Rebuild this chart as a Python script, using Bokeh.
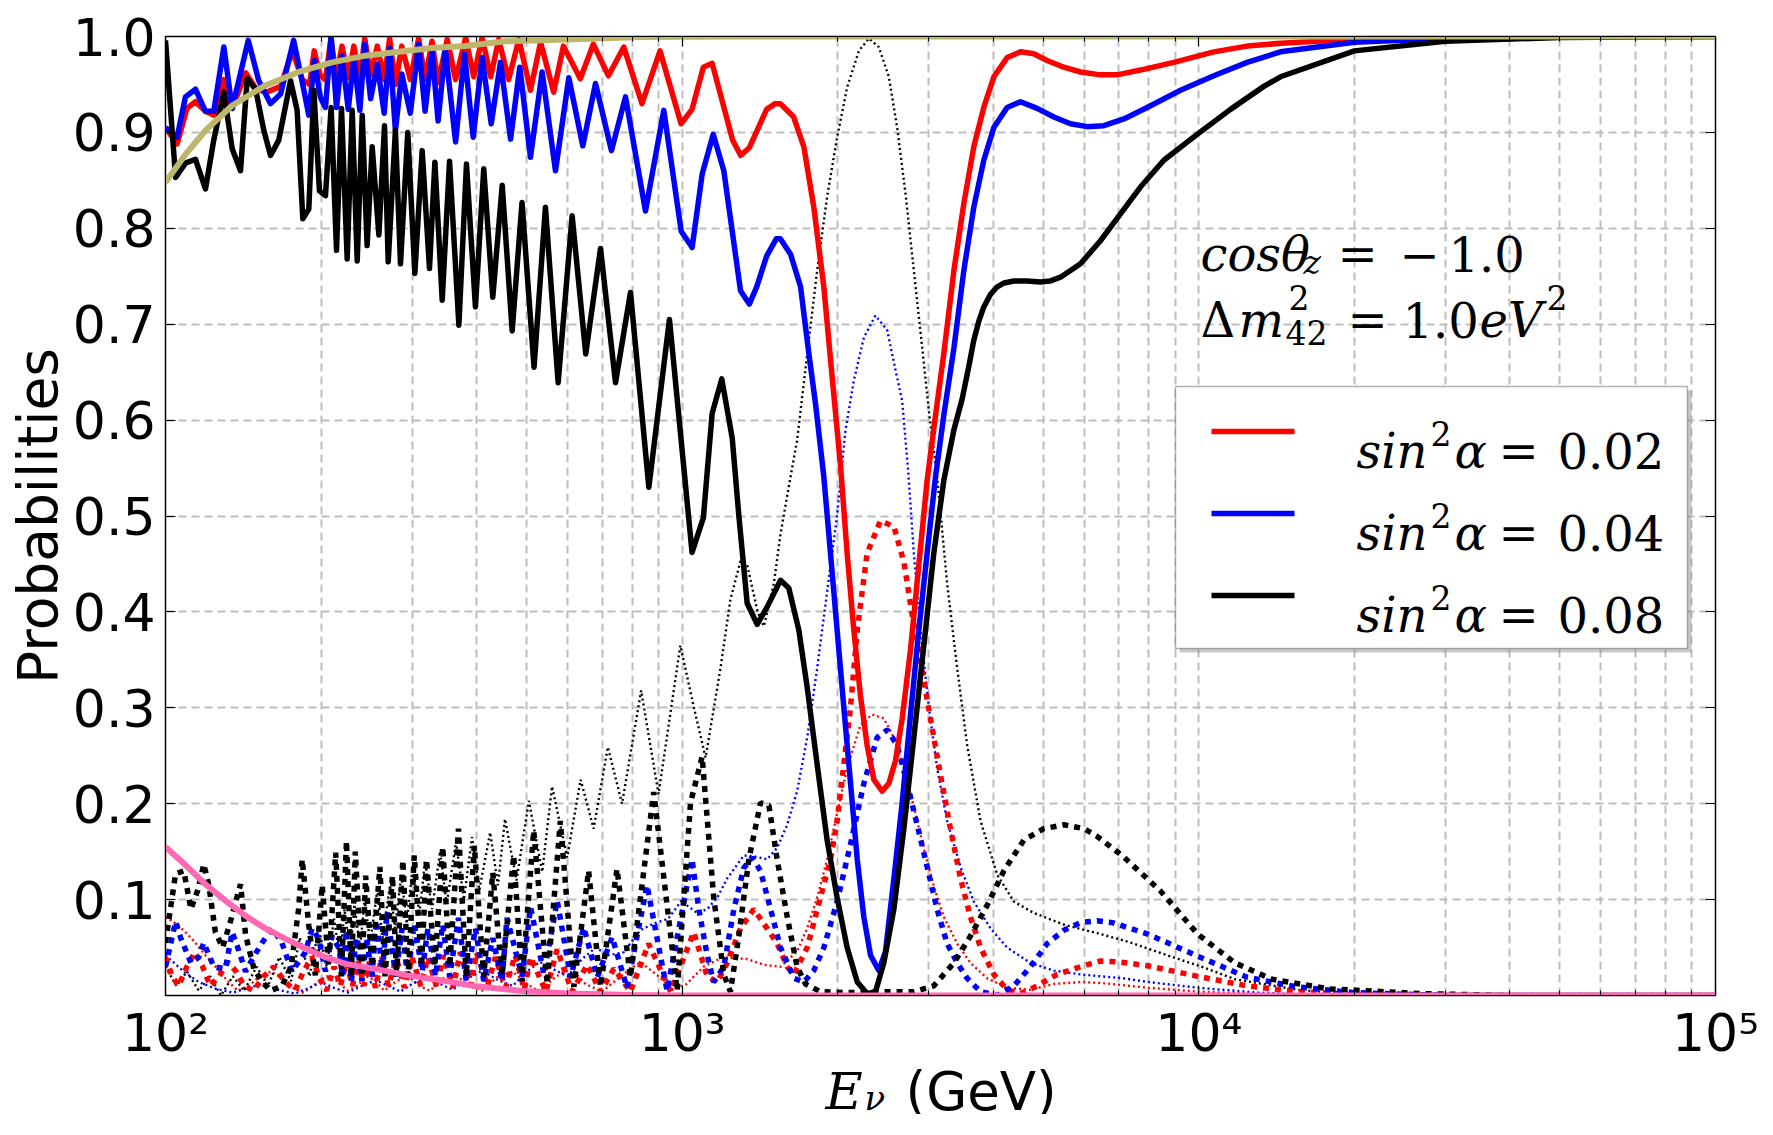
from bokeh.plotting import figure
from bokeh.layouts import column
from bokeh.models import (FixedTicker, LinearAxis, LogAxis, Label, BoxAnnotation,
                          NumeralTickFormatter, CustomJSTickFormatter)
from bokeh.embed import file_html
from bokeh.resources import INLINE

# ---------------- data ----------------
RED_SOLID_E = [100, 105.3, 110, 114.3, 119.5, 124, 129.7, 134.6, 143, 150, 157, 167, 176, 184, 190, 194, 199, 204,
               209, 214, 219.6, 225.8, 231.5, 237.8, 243, 249.5, 257, 265, 271.5, 278.6, 286.6, 297.7, 309, 318,
               328, 337, 351, 364.3, 381, 395, 410, 426, 441.6, 461.4, 483, 508.6, 532, 564, 589, 635, 673, 720,
               771, 836, 906, 995, 1045, 1099, 1143, 1252, 1298, 1349, 1457, 1514, 1549, 1644, 1720, 1798, 1880,
               1951, 2025, 2086, 2149, 2213, 2280, 2350, 2438, 2512, 2588, 2666, 2767, 2871, 2979, 3093, 3209,
               3357, 3509, 3668, 3835, 4011, 4256, 4516, 4793, 5086, 5480, 5902, 6452, 6950, 7709, 8947, 10690,
               12400, 14390, 20000, 30000, 50000, 100000]
RED_SOLID_P = [0.905, 0.888, 0.925, 0.932, 0.922, 0.918, 0.955, 0.925, 0.962, 0.945, 0.942, 0.948, 0.985, 0.955,
               0.950, 0.985, 0.960, 0.955, 0.998, 0.958, 0.990, 0.957, 0.990, 0.957, 0.998, 0.960, 0.990, 0.955,
               0.998, 0.950, 0.990, 0.955, 0.998, 0.955, 0.995, 0.952, 0.997, 0.955, 0.999, 0.958, 0.999, 0.958,
               0.997, 0.955, 0.997, 0.944, 0.994, 0.942, 0.990, 0.956, 0.992, 0.959, 0.989, 0.930, 0.985, 0.909,
               0.924, 0.968, 0.972, 0.892, 0.876, 0.884, 0.924, 0.930, 0.930, 0.916, 0.885, 0.822, 0.739, 0.645,
               0.553, 0.461, 0.381, 0.313, 0.261, 0.225, 0.213, 0.221, 0.245, 0.289, 0.361, 0.449, 0.537, 0.605,
               0.669, 0.756, 0.826, 0.885, 0.926, 0.958, 0.978, 0.984, 0.982, 0.975, 0.968, 0.963, 0.960, 0.960,
               0.965, 0.973, 0.984, 0.990, 0.993, 0.997, 0.999, 1.0, 1.0]

BLUE_SOLID_E = [100, 105.3, 109.3, 114.3, 119.5, 124, 129.7, 134.6, 144.6, 151.5, 159.7, 167, 177, 183.7, 189.4,
                194.2, 199.3, 204, 209.2, 214.3, 219.6, 225.8, 231.5, 237.8, 243, 249.5, 257, 265, 271.5, 278.6,
                286.6, 297.7, 309, 318, 328, 337, 348, 364.3, 379, 394, 410, 427, 445, 465.5, 485, 508.6, 535.8,
                568.6, 603.4, 642.2, 679.6, 729.7, 776.9, 849.2, 921.5, 995.7, 1045.5, 1093.6, 1148.5, 1204, 1250,
                1297, 1349, 1394, 1457, 1521, 1549, 1621, 1695, 1759, 1812, 1880, 1937, 1995, 2055, 2118, 2182,
                2247, 2315, 2402, 2475, 2569, 2666, 2767, 2871, 2979, 3093, 3209, 3357, 3509, 3668, 3835, 4011,
                4256, 4516, 4865, 5240, 5644, 6079, 6549, 7159, 7943, 9215, 10690, 12400, 14390, 20000, 30000,
                50000, 100000]
BLUE_SOLID_P = [0.905, 0.895, 0.937, 0.945, 0.922, 0.922, 0.989, 0.925, 0.996, 0.954, 0.930, 0.940, 0.996, 0.954,
                0.918, 0.975, 0.937, 0.926, 1.0, 0.926, 0.980, 0.924, 0.978, 0.923, 0.992, 0.935, 0.971, 0.920,
                0.988, 0.902, 0.961, 0.920, 0.992, 0.922, 0.985, 0.912, 0.987, 0.890, 0.982, 0.895, 0.978, 0.909,
                0.973, 0.893, 0.968, 0.874, 0.963, 0.860, 0.957, 0.886, 0.951, 0.881, 0.937, 0.818, 0.923, 0.797,
                0.780, 0.857, 0.898, 0.860, 0.797, 0.735, 0.721, 0.739, 0.771, 0.789, 0.789, 0.773, 0.739, 0.669,
                0.617, 0.541, 0.461, 0.381, 0.301, 0.221, 0.142, 0.082, 0.042, 0.026, 0.046, 0.122, 0.201, 0.293,
                0.381, 0.461, 0.541, 0.605, 0.675, 0.756, 0.822, 0.871, 0.905, 0.926, 0.932, 0.925, 0.916, 0.909,
                0.906, 0.907, 0.914, 0.926, 0.944, 0.959, 0.973, 0.984, 0.994, 0.998, 1.0, 1.0]

BLACK_SOLID_E = [100, 104.6, 109.3, 114.3, 119.5, 124.0, 129.7, 134.6, 139.7, 143.9, 149.4, 155.0, 159.7, 165.7,
                 174.6, 179.8, 184.4, 189.4, 193.7, 198.6, 204.0, 209.2, 214.3, 219.1, 224.7, 229.8, 235.0, 240.3,
                 245.6, 251.2, 258.8, 265.4, 269.8, 278.6, 285.0, 294.4, 303.8, 313.9, 324.3, 332.2, 343.2, 354.6,
                 369.7, 382.4, 398, 413, 430, 448.4, 468.8, 489.8, 516.8, 543.7, 575.4, 612.4, 650.7, 695, 743,
                 794.3, 862, 945, 1045, 1099, 1143, 1193, 1250, 1287, 1336, 1397, 1460, 1550, 1608, 1682, 1746,
                 1825, 1908, 1995, 2086, 2182, 2280, 2367, 2456, 2569, 2686, 2808, 2936, 3069, 3209, 3357, 3483,
                 3600, 3667, 3750, 3835, 3950, 4071, 4200, 4384, 4650, 4937, 5150, 5398, 5901, 6450, 7052, 7709,
                 8553, 9924, 11514, 13360, 14390, 20000, 30000, 50000, 100000]
BLACK_SOLID_P = [0.996, 0.853, 0.868, 0.872, 0.841, 0.892, 0.942, 0.883, 0.860, 0.956, 0.945, 0.902, 0.876, 0.892,
                 0.954, 0.923, 0.810, 0.820, 0.944, 0.839, 0.834, 0.926, 0.777, 0.925, 0.768, 0.923, 0.766, 0.918,
                 0.782, 0.885, 0.793, 0.907, 0.765, 0.902, 0.763, 0.900, 0.753, 0.881, 0.758, 0.869, 0.725, 0.870,
                 0.699, 0.867, 0.718, 0.862, 0.728, 0.845, 0.693, 0.827, 0.655, 0.822, 0.639, 0.813, 0.669, 0.779,
                 0.639, 0.733, 0.530, 0.705, 0.462, 0.498, 0.607, 0.643, 0.581, 0.501, 0.409, 0.387, 0.405, 0.433,
                 0.425, 0.381, 0.321, 0.241, 0.162, 0.102, 0.050, 0.014, 0.002, 0.004, 0.034, 0.090, 0.174, 0.269,
                 0.365, 0.461, 0.537, 0.590, 0.622, 0.660, 0.683, 0.703, 0.718, 0.731, 0.739, 0.743, 0.745, 0.745,
                 0.744, 0.745, 0.749, 0.763, 0.787, 0.815, 0.843, 0.871, 0.898, 0.924, 0.948, 0.958, 0.985, 0.995,
                 0.999, 1.0]

BLACK_DASHED_E = [100, 104.6, 108.5, 112, 115.5, 118.6, 121.3, 124.9, 129, 134, 139.7, 142.9, 148.3, 153.8, 160,
                  168, 175, 181, 183.9, 189.4, 195, 201, 207, 213.5, 219, 224, 229, 233, 240, 244, 251, 260, 266,
                  275, 280, 288, 295, 303, 313, 320, 332, 344, 355, 369, 382, 396, 413, 430, 448, 472, 490, 516,
                  548, 581, 617, 659, 695, 748, 794, 881, 978, 1038, 1093, 1151, 1204, 1240, 1287, 1346, 1418,
                  1472, 1527, 1597, 1669, 1733, 1850, 2100, 2420, 2808, 3069, 3357, 3614, 3893, 4194, 4584, 5011,
                  5479, 5990, 6356, 7137, 8427, 9950, 11740, 13860, 17780, 26900, 40000, 100000]
BLACK_DASHED_P = [0.055, 0.127, 0.130, 0.090, 0.110, 0.137, 0.115, 0.066, 0.050, 0.080, 0.116, 0.063, 0.028, 0.014,
                  0.005, 0.010, 0.030, 0.090, 0.142, 0.073, 0.021, 0.115, 0.031, 0.149, 0.020, 0.161, 0.020, 0.150,
                  0.020, 0.125, 0.030, 0.134, 0.020, 0.125, 0.020, 0.141, 0.020, 0.146, 0.030, 0.142, 0.030, 0.155,
                  0.030, 0.174, 0.020, 0.156, 0.020, 0.128, 0.020, 0.146, 0.015, 0.172, 0.012, 0.182, 0.009, 0.130,
                  0.009, 0.132, 0.019, 0.212, 0.005, 0.201, 0.249, 0.102, 0.022, 0.004, 0.062, 0.142, 0.201, 0.198,
                  0.142, 0.082, 0.030, 0.012, 0.004, 0.003, 0.004, 0.004, 0.010, 0.034, 0.062, 0.094, 0.130, 0.162,
                  0.174, 0.178, 0.174, 0.166, 0.145, 0.109, 0.064, 0.034, 0.017, 0.007, 0.002, 0.0, 0.0]

BLUE_DASHED_E = [100, 104.6, 107, 109.3, 112, 116, 118.6, 124, 130.6, 134.6, 137.6, 142.9, 148, 153.8, 160.9, 168,
                 175.6, 181, 186.5, 192.2, 198, 204, 210, 216.7, 220, 224, 229, 234, 240, 245, 251, 256, 263,
                 268.5, 279, 287, 294, 303, 314, 322, 333, 344, 355, 369, 382, 398, 413, 430, 448, 458, 490, 509,
                 540, 573, 608, 645, 685, 732, 782, 855, 935, 1045, 1077, 1118, 1151, 1204, 1259, 1316, 1366,
                 1418, 1483, 1550, 1645, 1720, 1798, 1880, 1995, 2118, 2247, 2384, 2493, 2607, 2726, 2850, 2980,
                 3115, 3258, 3407, 3561, 3780, 4071, 4385, 4722, 5086, 5479, 5902, 6356, 6800, 7970, 9950, 12400,
                 15500, 20000, 30000, 100000]
BLUE_DASHED_P = [0.030, 0.077, 0.060, 0.048, 0.034, 0.040, 0.055, 0.030, 0.028, 0.066, 0.052, 0.025, 0.040, 0.055,
                 0.070, 0.055, 0.025, 0.035, 0.045, 0.070, 0.059, 0.025, 0.062, 0.049, 0.020, 0.068, 0.015, 0.060,
                 0.015, 0.060, 0.020, 0.078, 0.025, 0.087, 0.020, 0.070, 0.020, 0.075, 0.025, 0.070, 0.020, 0.074,
                 0.020, 0.081, 0.015, 0.070, 0.015, 0.060, 0.015, 0.081, 0.020, 0.092, 0.022, 0.099, 0.019, 0.071,
                 0.019, 0.061, 0.008, 0.115, 0.005, 0.142, 0.090, 0.042, 0.014, 0.030, 0.090, 0.133, 0.144, 0.130,
                 0.090, 0.050, 0.018, 0.014, 0.026, 0.050, 0.098, 0.158, 0.221, 0.269, 0.277, 0.261, 0.221, 0.178,
                 0.134, 0.090, 0.054, 0.034, 0.018, 0.004, 0.0, 0.010, 0.030, 0.054, 0.068, 0.076, 0.078, 0.076,
                 0.064, 0.041, 0.019, 0.009, 0.003, 0.0, 0.0]

RED_DASHED_E = [100, 103, 106, 110, 114, 118, 122, 127, 132, 137, 142, 148, 155, 162, 170, 178, 185, 192, 198, 205,
                212, 218, 224, 230, 236, 242, 248, 255, 262, 270, 280, 290, 300, 312, 322, 335, 345, 360, 372, 390,
                400, 420, 435, 455, 475, 495, 509, 545, 573, 612, 655, 695, 738, 794, 861, 950, 1053, 1118, 1169,
                1222, 1297, 1376, 1460, 1527, 1597, 1645, 1746, 1852, 1937, 1995, 2055, 2118, 2182, 2280, 2420,
                2569, 2686, 2787, 2893, 3024, 3162, 3306, 3457, 3614, 3780, 4011, 4256, 4516, 4864, 5318, 5902,
                6451, 7000, 7970, 9950, 12400, 15500, 20000, 30000, 100000]
RED_DASHED_P = [0.040, 0.020, 0.010, 0.030, 0.045, 0.030, 0.010, 0.020, 0.035, 0.025, 0.010, 0.005, 0.020, 0.030,
                0.015, 0.005, 0.025, 0.040, 0.020, 0.005, 0.030, 0.010, 0.035, 0.010, 0.035, 0.010, 0.035, 0.008,
                0.040, 0.010, 0.038, 0.008, 0.040, 0.010, 0.040, 0.008, 0.042, 0.008, 0.045, 0.010, 0.045, 0.010,
                0.040, 0.008, 0.042, 0.006, 0.040, 0.004, 0.048, 0.004, 0.032, 0.004, 0.028, 0.004, 0.054, 0.004,
                0.066, 0.020, 0.014, 0.034, 0.070, 0.090, 0.070, 0.054, 0.030, 0.022, 0.050, 0.102, 0.142, 0.182,
                0.241, 0.301, 0.381, 0.461, 0.495, 0.489, 0.452, 0.397, 0.349, 0.289, 0.230, 0.174, 0.122, 0.082,
                0.050, 0.022, 0.006, 0.002, 0.010, 0.022, 0.030, 0.036, 0.035, 0.031, 0.020, 0.010, 0.004, 0.001,
                0.0, 0.0]

BLACK_DOTTED_E = [100, 105, 110, 116, 122, 128, 135, 142, 150, 158, 166, 175, 182, 190, 198, 205, 212, 218, 222,
                  228, 232, 238, 243, 249, 257, 263, 272, 278, 286, 293, 301, 310, 318, 328, 340, 350, 365, 378,
                  392, 405, 425, 440, 454, 478, 505, 536, 560, 599, 636, 674, 718, 765, 833, 900, 992, 1053, 1110,
                  1186, 1240, 1297, 1336, 1400, 1439, 1504, 1550, 1621, 1669, 1746, 1825, 1908, 1995, 2086, 2198,
                  2298, 2402, 2512, 2607, 2706, 2808, 2914, 3002, 3115, 3258, 3407, 3561, 3780, 4071, 4385, 4793,
                  5479, 6356, 7300, 8900, 10000, 11740, 15500, 20000, 30000, 100000]
BLACK_DOTTED_P = [0.030, 0.010, 0.025, 0.005, 0.020, 0.0, 0.020, 0.005, 0.030, 0.010, 0.040, 0.015, 0.060, 0.020,
                  0.070, 0.030, 0.080, 0.035, 0.090, 0.040, 0.095, 0.050, 0.100, 0.055, 0.110, 0.060, 0.115, 0.070,
                  0.125, 0.075, 0.135, 0.085, 0.140, 0.090, 0.150, 0.095, 0.160, 0.100, 0.165, 0.110, 0.170, 0.115,
                  0.184, 0.120, 0.203, 0.129, 0.218, 0.144, 0.225, 0.174, 0.259, 0.200, 0.318, 0.210, 0.365, 0.301,
                  0.248, 0.341, 0.413, 0.453, 0.449, 0.400, 0.385, 0.429, 0.481, 0.541, 0.579, 0.669, 0.756, 0.833,
                  0.895, 0.947, 0.985, 0.998, 0.989, 0.958, 0.905, 0.836, 0.756, 0.676, 0.610, 0.541, 0.429, 0.341,
                  0.261, 0.182, 0.126, 0.098, 0.086, 0.074, 0.065, 0.056, 0.040, 0.031, 0.017, 0.006, 0.001, 0.0,
                  0.0]

BLUE_DOTTED_E = [100, 109, 116, 125, 135, 145, 155, 165, 178, 190, 200, 212, 225, 240, 255, 270, 285, 300, 320,
                 340, 360, 385, 410, 440, 470, 500, 530, 560, 600, 640, 680, 720, 770, 830, 880, 940, 1000, 1022,
                 1069, 1118, 1169, 1222, 1316, 1380, 1460, 1527, 1597, 1669, 1746, 1825, 1908, 1995, 2070, 2149,
                 2247, 2366, 2493, 2588, 2666, 2700, 2740, 2808, 2893, 3002, 3115, 3258, 3457, 3668, 3952, 4256,
                 4722, 5240, 5902, 6451, 7137, 8000, 10000, 13000, 18000, 100000]
BLUE_DOTTED_P = [0.042, 0.024, 0.014, 0.007, 0.003, 0.008, 0.012, 0.006, 0.002, 0.008, 0.014, 0.008, 0.003, 0.010,
                 0.016, 0.010, 0.004, 0.012, 0.020, 0.012, 0.006, 0.018, 0.026, 0.016, 0.010, 0.025, 0.035, 0.028,
                 0.020, 0.038, 0.050, 0.042, 0.045, 0.068, 0.075, 0.080, 0.100, 0.094, 0.086, 0.090, 0.102, 0.122,
                 0.146, 0.145, 0.142, 0.154, 0.178, 0.213, 0.269, 0.341, 0.421, 0.501, 0.589, 0.641, 0.686, 0.709,
                 0.694, 0.652, 0.620, 0.585, 0.545, 0.461, 0.381, 0.301, 0.237, 0.182, 0.134, 0.098, 0.070, 0.050,
                 0.034, 0.026, 0.022, 0.020, 0.018, 0.014, 0.008, 0.003, 0.0, 0.0]

RED_DOTTED_E = [100, 106, 112.6, 119.5, 126, 132, 138, 145, 152, 160, 168, 176, 185, 195, 205, 215, 225, 235, 245,
                255, 265, 280, 295, 310, 325, 345, 365, 385, 410, 440, 470, 500, 530, 570, 610, 650, 700, 760, 830,
                900, 960, 1020, 1100, 1200, 1336, 1439, 1550, 1669, 1746, 1825, 1908, 1995, 2086, 2213, 2332, 2456,
                2569, 2686, 2808, 2936, 3069, 3209, 3407, 3614, 3893, 4256, 4722, 5240, 5902, 6500, 8000, 10000,
                14000, 20000, 100000]
RED_DOTTED_P = [0.082, 0.073, 0.059, 0.042, 0.028, 0.015, 0.005, 0.010, 0.020, 0.025, 0.018, 0.008, 0.003, 0.012,
                0.020, 0.015, 0.005, 0.010, 0.020, 0.015, 0.005, 0.015, 0.020, 0.010, 0.005, 0.018, 0.022, 0.010,
                0.005, 0.020, 0.025, 0.012, 0.004, 0.020, 0.028, 0.012, 0.004, 0.020, 0.035, 0.020, 0.006, 0.012,
                0.030, 0.040, 0.038, 0.032, 0.030, 0.046, 0.070, 0.102, 0.142, 0.190, 0.237, 0.282, 0.293, 0.289,
                0.269, 0.237, 0.197, 0.153, 0.114, 0.082, 0.054, 0.034, 0.018, 0.008, 0.006, 0.012, 0.014, 0.013,
                0.008, 0.004, 0.001, 0.0, 0.0]

KHAKI_E = [100, 109.3, 119.5, 134.6, 156, 181, 210, 243.6, 283, 328, 380, 456, 599, 830, 1297, 100000]
KHAKI_P = [0.848, 0.877, 0.902, 0.928, 0.949, 0.963, 0.973, 0.980, 0.984, 0.988, 0.990, 0.995, 0.997, 0.9994,
           1.0, 1.0]

PINK_E = [100, 109.3, 119.5, 130.6, 142.9, 156, 170.7, 186.5, 204, 223, 253, 294, 340, 395, 486, 600, 800, 1000,
          100000]
PINK_P = [0.155, 0.136, 0.116, 0.099, 0.083, 0.070, 0.059, 0.049, 0.040, 0.033, 0.028, 0.021, 0.016, 0.010,
          0.005, 0.002, 0.0005, 0.0, 0.0]

Y_TICKS = [0.1, 0.2, 0.3, 0.4, 0.5, 0.6, 0.7, 0.8, 0.9, 1.0]
X_TICKS = [100, 1000, 10000, 100000]
X_MINOR = [200, 300, 400, 500, 600, 700, 800, 900, 2000, 3000, 4000, 5000, 6000, 7000, 8000, 9000,
           20000, 30000, 40000, 50000, 60000, 70000, 80000, 90000]
X_LABELS = {100: "10\u00b2", 1000: "10\u00b3", 10000: "10\u2074", 100000: "10\u2075"}
LEGEND_VALUES = ["0.02", "0.04", "0.08"]
LEGEND_COLORS = ["red", "blue", "black"]

# ---------------- main figure ----------------
p = figure(x_axis_type="log", x_range=(100, 1e5), y_range=(0, 1),
           frame_width=1550, frame_height=959,
           min_border_left=165, min_border_right=50, min_border_top=36, min_border_bottom=74,
           output_backend="svg", toolbar_location=None, background_fill_color="white")
p.align = "start"

xt = FixedTicker(ticks=X_TICKS, minor_ticks=X_MINOR)
yt = FixedTicker(ticks=Y_TICKS)
p.xaxis.ticker = xt
p.xgrid.ticker = xt
p.yaxis.ticker = yt
p.ygrid.ticker = yt

GRID_C = "#bdbdbd"
for g in (p.xgrid, p.ygrid):
    g.grid_line_color = GRID_C
    g.grid_line_dash = "8 5"
    g.grid_line_width = 2
p.xgrid.minor_grid_line_color = GRID_C
p.xgrid.minor_grid_line_dash = "8 5"
p.xgrid.minor_grid_line_width = 2

p.outline_line_color = "black"
p.outline_line_width = 1.5

ax = p.xaxis[0]
ax.axis_label = None
ax.axis_label_standoff = 0
ax.major_label_overrides = X_LABELS
ax.major_label_text_font = "DejaVu Sans"
ax.major_label_text_font_size = "52px"
ax.major_label_text_color = "black"
ax.major_label_standoff = 7
ax.major_tick_in = 10
ax.major_tick_out = 0
ax.minor_tick_in = 5
ax.minor_tick_out = 0
ax.axis_line_color = "black"

ay = p.yaxis[0]
ay.formatter = NumeralTickFormatter(format="0.0")
ay.major_label_text_font = "DejaVu Sans"
ay.major_label_text_font_size = "52px"
ay.major_label_text_color = "black"
ay.major_label_standoff = 10
ay.major_tick_in = 10
ay.major_tick_out = 0
ay.minor_tick_in = 0
ay.minor_tick_out = 0
ay.axis_label = "Probabilities"
ay.axis_label_text_font = "DejaVu Sans"
ay.axis_label_text_font_size = "55px"
ay.axis_label_text_font_style = "normal"
ay.axis_label_text_color = "black"
ay.axis_label_standoff = 0

blank = CustomJSTickFormatter(code="return ''")
ra = LinearAxis(ticker=yt, formatter=blank, major_tick_in=10, major_tick_out=0,
                minor_tick_in=0, minor_tick_out=0, major_label_standoff=0)
p.add_layout(ra, "right")
ta = LogAxis(ticker=xt, formatter=blank, major_tick_in=10, major_tick_out=0,
             minor_tick_in=5, minor_tick_out=0, major_label_standoff=0)
p.add_layout(ta, "above")

# ---------------- curves ----------------
def dotted(E, P, c):
    return p.line(E, P, line_color=c, line_width=2.4, line_dash="2 3")

def dashed(E, P, c):
    return p.line(E, P, line_color=c, line_width=5.5, line_dash="6 6")

def solid(E, P, c):
    return p.line(E, P, line_color=c, line_width=5.5, line_join="round")

dotted(RED_DOTTED_E, RED_DOTTED_P, "red")
dotted(BLUE_DOTTED_E, BLUE_DOTTED_P, "blue")
dotted(BLACK_DOTTED_E, BLACK_DOTTED_P, "black")
dashed(RED_DASHED_E, RED_DASHED_P, "red")
dashed(BLUE_DASHED_E, BLUE_DASHED_P, "blue")
dashed(BLACK_DASHED_E, BLACK_DASHED_P, "black")
solid(RED_SOLID_E, RED_SOLID_P, "red")
solid(BLUE_SOLID_E, BLUE_SOLID_P, "blue")
solid(BLACK_SOLID_E, BLACK_SOLID_P, "black")
p.line(KHAKI_E, KHAKI_P, line_color="#bdb76b", line_width=6)
p.line(PINK_E, PINK_P, line_color="#ff69b4", line_width=6)

# ---------------- legend (drawn by hand, in screen units of the frame) ----------------
def box(l, r, b, t, fill, alpha=1.0, line=None, lw=1.5):
    p.add_layout(BoxAnnotation(left=l, right=r, bottom=b, top=t,
                               left_units="screen", right_units="screen",
                               bottom_units="screen", top_units="screen",
                               fill_color=fill, fill_alpha=alpha, line_color=line, line_width=lw,
                               level="underlay"))

box(1014, 1526, 343, 605, "#888888", 0.45)
box(1010, 1522, 347, 609, "white", 1.0, "black", 1.5)
for i, c in enumerate(LEGEND_COLORS):
    cy = 564 - 82 * i
    box(1046, 1129, cy - 2.7, cy + 2.7, c, 1.0)


def txt(s, x, y, size, style="normal", font="DejaVu Serif"):
    p.add_layout(Label(x=x, y=y, x_units="screen", y_units="screen", text=s, text_font=font,
                       text_font_size=f"{size}px", text_font_style=style, text_color="black",
                       text_baseline="alphabetic", text_align="left"))


FS = 48
SUB = 33
for i, val in enumerate(LEGEND_VALUES):
    base = 545 - 82 * i
    txt("sin", 1191, base, FS, "italic")
    txt("2", 1265, base + 17, SUB)
    txt("\u03b1", 1289, base, FS, "italic")
    txt("=", 1333, base, FS)
    txt(val, 1392, base, FS)

# cos(theta_z) line
txt("cos\u03b8", 1035, 742, FS, "italic")
txt("z", 1138, 733, SUB, "italic")
txt("=", 1172, 742, FS)
txt("\u2212", 1234, 742, FS)
txt("1.0", 1283, 742, FS)
# Delta m^2_42 line
txt("\u0394", 1035, 676, FS)
txt("m", 1073, 676, FS, "italic")
txt("2", 1123, 698, SUB)
txt("42", 1120, 663, SUB)
txt("=", 1182, 676, FS)
txt("1.0", 1237, 676, FS)
txt("eV", 1314, 676, FS, "italic")
txt("2", 1381, 698, SUB)

# ---------------- strip below the axis holding the x axis title ----------------
# (its frame is aligned with the main frame, so x is measured from the frame's left edge)
lab = figure(width=1765, height=80, x_range=(0, 1765), y_range=(0, 80),
             x_axis_location=None, y_axis_location=None, min_border=0,
             output_backend="svg", toolbar_location=None)
lab.align = "start"
lab.margin = (-35, 0, 0, 0)
lab.grid.visible = False
lab.outline_line_color = None
lab.background_fill_alpha = 0
lab.border_fill_alpha = 0
for s, x, y, size, style, font in [("E", 660, 23, 51, "italic", "DejaVu Serif"),
                                   ("\u03bd", 699, 17, 34, "italic", "DejaVu Serif"),
                                   ("(GeV)", 740, 23, 53, "normal", "DejaVu Sans")]:
    lab.add_layout(Label(x=x, y=y, x_units="screen", y_units="screen", text=s, text_font=font,
                         text_font_size=f"{size}px", text_font_style=style, text_color="black",
                         text_baseline="alphabetic", text_align="left"))

layout = column(p, lab, spacing=0)
open("out.html", "w").write(file_html(layout, INLINE))
